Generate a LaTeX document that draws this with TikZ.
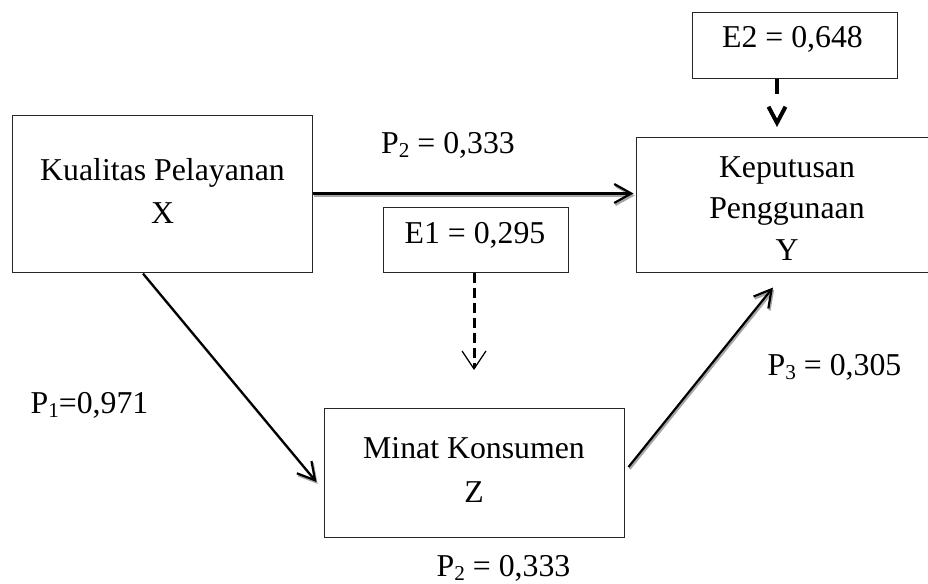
\documentclass[tikz,border=0pt]{standalone}
\usepackage{fontspec}
\setmainfont{Liberation Serif}
\usetikzlibrary{arrows.meta}
\newcommand\subsc[1]{\raisebox{-0.3ex}{\fontsize{10.6}{12}\selectfont #1}}
\begin{document}
\begin{tikzpicture}[x=0.5pt,y=-0.5pt,
  font=\fontsize{15.9}{19}\selectfont,
  box/.style={draw=black!85,line width=0.5pt,inner sep=0pt},
  txt/.style={anchor=base,inner sep=0pt},
  mainline/.style={line width=1.1pt,-{Straight Barb[length=8.5pt,width=9.5pt]}},
  shadowline/.style={mainline,draw=black!35,transform canvas={shift={(0.6pt,-1pt)}}},
  errline/.style={line width=1.5pt,dash pattern=on 5pt off 2.5pt,-{Straight Barb[length=9pt,width=12pt,line width=0.6pt]}},
  errlinethick/.style={line width=2pt,dash pattern=on 7.5pt off 20pt,-{Straight Barb[length=8pt,width=8.5pt]}},
]
\useasboundingbox (0,0) rectangle (928,584);
% boxes
\node[box,minimum width=150pt,minimum height=78.5pt] (X) at (162,193.5) {};
\node[box,minimum width=151pt,minimum height=67.5pt] (Y) at (787,204.5) {};
\node[box,minimum width=150pt,minimum height=64.5pt] (Z) at (474,472.5) {};
\node[box,minimum width=92.5pt,minimum height=32.5pt] (E1) at (475.5,239.5) {};
\node[box,minimum width=102.5pt,minimum height=33pt] (E2) at (794.5,45) {};
% box texts
\node[txt] (Xa) at (162.5,180) {Kualitas Pelayanan};
\node[txt] (Xb) at (162.5,223) {X};
\node[txt] (Ya) at (787,177) {Keputusan};
\node[txt] (Yb) at (787,218) {Penggunaan};
\node[txt] (Yc) at (787,260) {Y};
\node[txt] (Za) at (474,458) {Minat Konsumen};
\node[txt] (Zb) at (474,502) {Z};
\node[txt] (E1t) at (475,243) {E1 = 0,295};
\node[txt] (E2t) at (792.5,47) {E2 = 0,648};
% path labels
\node[txt] (p2top) at (448,153) {P\subsc{2} = 0,333};
\node[txt] (p1) at (89.5,413) {P\subsc{1}=0,971};
\node[txt] (p3) at (834.5,375) {P\subsc{3} = 0,305};
\node[txt] (p2bot) at (503.5,576) {P\subsc{2} = 0,333};
% arrow end points
\coordinate (e1tip) at (474,370);
\coordinate (e2tip) at (777,127);
% connectors with shadow
\draw[shadowline] (X.east) -- ([xshift=-1pt]X.east -| Y.west);
\draw[mainline] (X.east) -- ([xshift=-1pt]X.east -| Y.west);
\draw[shadowline] ([shift={(-19,1)}]X.south) -- ([shift={(-7,9.5)}]Z.west);
\draw[mainline] ([shift={(-19,1)}]X.south) -- ([shift={(-7,9.5)}]Z.west);
\draw[shadowline] ([shift={(4,-5.5)}]Z.east) -- ([shift={(-14,15)}]Y.south);
\draw[mainline] ([shift={(4,-5.5)}]Z.east) -- ([shift={(-14,15)}]Y.south);
% error arrows
\draw[errline] (E1.south -| e1tip) -- (e1tip);
\draw[errlinethick] (E2.south -| e2tip) -- (e2tip);
\end{tikzpicture}
\end{document}
